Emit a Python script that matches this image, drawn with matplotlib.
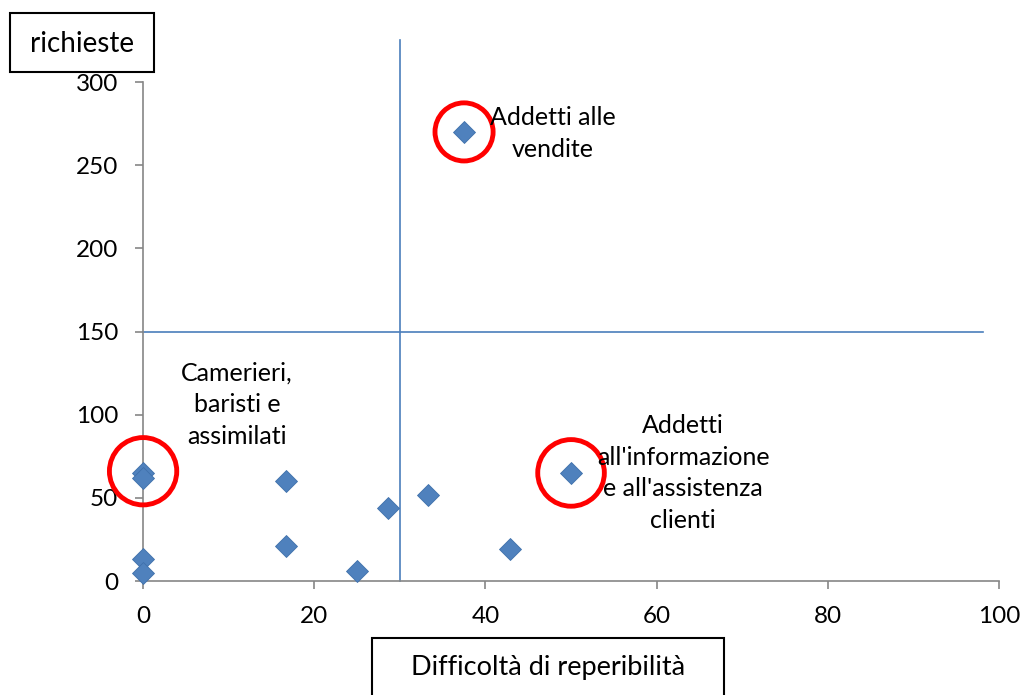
import matplotlib.pyplot as plt
from matplotlib.patches import Rectangle

plt.rcParams['font.family'] = ['Lato', 'DejaVu Sans']

# difficoltà di reperibilità (%) vs numero di richieste
difficolta = [37.5, 50.0, 0.0, 0.0, 0.0, 0.0, 16.7, 16.7, 25.0, 28.6, 33.3, 42.9]
richieste = [270, 65, 65, 62, 13, 5, 60, 21, 6, 44, 52, 19]

# profili evidenziati
evid_x = [37.5, 0.0, 50.0]
evid_y = [270, 66, 65]
evid_size = [1750, 2350, 2300]
etichette = ["Addetti alle\nvendite", "Camerieri,\nbaristi e\nassimilati",
             "Addetti\nall'informazione\ne all'assistenza\nclienti"]
etich_x = [47.9, 11.0, 63.1]
etich_y = [269, 106, 65]

soglia_x = 30
soglia_y = 150

fig = plt.figure(figsize=(10.22, 6.95), dpi=100)
ax = fig.add_axes([0.140, 0.164, 0.8375, 0.718])

blu = '#4a7ebb'
ax.plot([soglia_x, soglia_x], [0, 325], color=blu, lw=1.2, clip_on=False, zorder=2)
ax.plot([0, 98.1], [soglia_y, soglia_y], color=blu, lw=1.2, clip_on=False, zorder=2)

ax.plot(difficolta, richieste, linestyle='none', marker='D', markersize=11,
        color='#4f81bd', markeredgecolor='#3f70ab', markeredgewidth=0.6,
        clip_on=False, zorder=3)

ax.scatter(evid_x, evid_y, s=evid_size, facecolors='none', edgecolors='#ff0000',
           linewidths=3.5, clip_on=False, zorder=4)

for tx, ty, t in zip(etich_x, etich_y, etichette):
    ax.text(tx, ty, t, ha='center', va='center', fontsize=18, linespacing=1.45, zorder=5)

ax.set_xlim(0, 100)
ax.set_ylim(0, 300)
ax.set_xticks([0, 20, 40, 60, 80, 100])
ax.set_yticks([0, 50, 100, 150, 200, 250, 300])

for s in ['top', 'right']:
    ax.spines[s].set_visible(False)
for s in ['left', 'bottom']:
    ax.spines[s].set_color('#868686')
    ax.spines[s].set_linewidth(1.2)
ax.tick_params(axis='both', colors='#868686', labelcolor='black', labelsize=17.5,
               width=1.2, length=6)
ax.tick_params(axis='x', pad=12)
ax.tick_params(axis='y', pad=12)

# riquadri dei titoli degli assi
fig.patches.append(Rectangle((10 / 1022, 1 - 72 / 695), 144 / 1022, 59 / 695,
                             transform=fig.transFigure, fill=False,
                             edgecolor='black', lw=1.5))
fig.text(82 / 1022, 1 - 44 / 695, "richieste", ha='center', va='center', fontsize=20)
fig.patches.append(Rectangle((372 / 1022, -0.02), 352 / 1022, 0.02 + 57 / 695,
                             transform=fig.transFigure, fill=False,
                             edgecolor='black', lw=1.5))
fig.text(548 / 1022, 1 - 668 / 695, "Difficoltà di reperibilità", ha='center',
         va='center', fontsize=19.5)

fig.savefig('out.png', dpi=100)
